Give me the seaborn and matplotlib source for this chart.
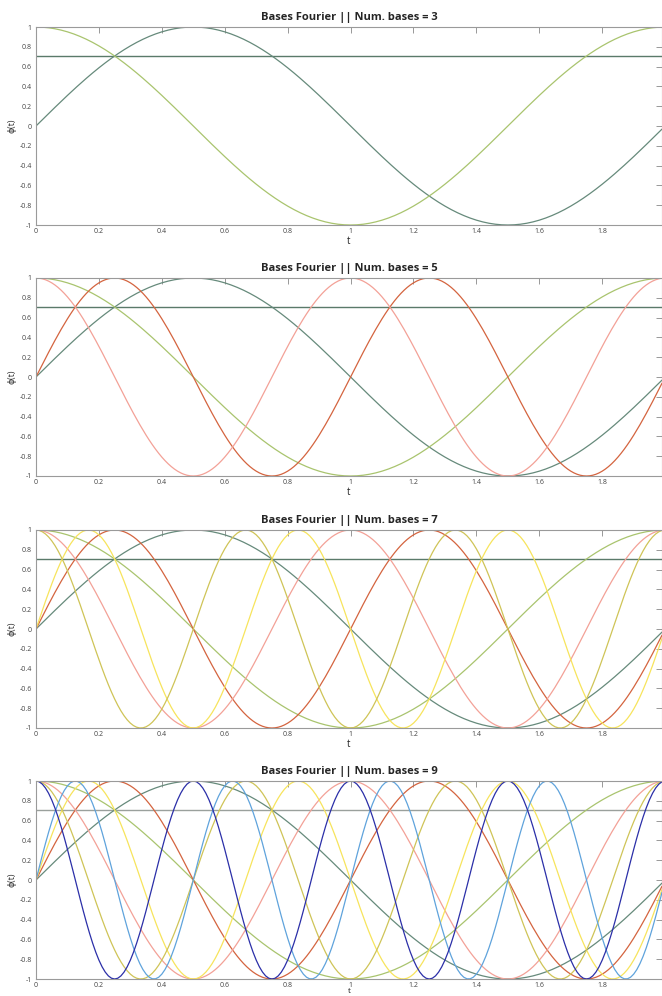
import numpy as np
import pandas as pd
import matplotlib
matplotlib.use("Agg")
import matplotlib.pyplot as plt
import seaborn as sns

""" Fourier basis functions for 3, 5, 7 and 9 bases """

# chart data
num_bases = [3, 5, 7, 9]
period = 2.0
t_step = 0.01
t_end = 1.99
harmonics = [1, 2, 3, 4]
# colours per harmonic: (sin, cos)
sin_colors = ["#668a7b", "#d4643f", "#f7e45c", "#5fa3dc"]
cos_colors = ["#a9c46e", "#f3a197", "#cfc457", "#2b2fa8"]
const_colors = ["#5a7a6a", "#5a7a6a", "#5a7a6a", "#9aa09c"]

x_ticks = [0, 0.2, 0.4, 0.6, 0.8, 1, 1.2, 1.4, 1.6, 1.8]
y_ticks = [-1, -0.8, -0.6, -0.4, -0.2, 0, 0.2, 0.4, 0.6, 0.8, 1]

sns.set_style("white")
plt.rcParams['font.family'] = ['Open Sans', 'DejaVu Sans']

t = np.arange(0, t_end + t_step / 2, t_step)
omega = 2 * np.pi / period

fig = plt.figure(figsize=(6.62, 9.96), dpi=100)

left, width, height = 36 / 662, 626 / 662, 198 / 996
bottoms = [225, 476, 728, 979]

for i, nb in enumerate(num_bases):
    ax = fig.add_axes([left, 1 - bottoms[i] / 996, width, height])

    # constant basis
    sns.lineplot(x=t, y=np.full_like(t, 1 / np.sqrt(2)), color=const_colors[i],
                 linewidth=1.0, ax=ax)

    # sin / cos pairs
    for k in harmonics[:(nb - 1) // 2]:
        sns.lineplot(x=t, y=np.sin(k * omega * t), color=sin_colors[k - 1],
                     linewidth=0.9, ax=ax)
        sns.lineplot(x=t, y=np.cos(k * omega * t), color=cos_colors[k - 1],
                     linewidth=0.9, ax=ax)

    ax.set_xlim(0, t_end)
    ax.set_ylim(-1, 1)
    ax.set_xticks(x_ticks)
    ax.set_xticklabels([f"{v:g}" for v in x_ticks])
    ax.set_yticks(y_ticks)
    ax.set_yticklabels([f"{v:g}" for v in y_ticks])
    ax.tick_params(direction="in", length=4, width=0.6, color="#888888",
                   labelsize=5, labelcolor="#444444", top=True, right=True,
                   pad=3)
    ax.tick_params(axis="x", pad=2)
    for sp in ax.spines.values():
        sp.set_color("#9a9a9a")
        sp.set_linewidth(0.8)

    ax.set_xlabel("t", fontsize=7, labelpad=1, color="#222222")
    if i == 3:
        # the last x label sits right at the bottom edge of the figure
        ax.xaxis.label.set_fontsize(6)
        ax.xaxis.label.set_verticalalignment("bottom")
        ax.xaxis.set_label_coords(0.5, -16 / 198)
    ax.set_ylabel("ϕ(t)", fontsize=6.5, labelpad=2, color="#333333")
    ax.set_title(f"Bases Fourier || Num. bases = {nb}", fontsize=8,
                 fontweight="bold", pad=5)

plt.savefig("out.png", dpi=100)
